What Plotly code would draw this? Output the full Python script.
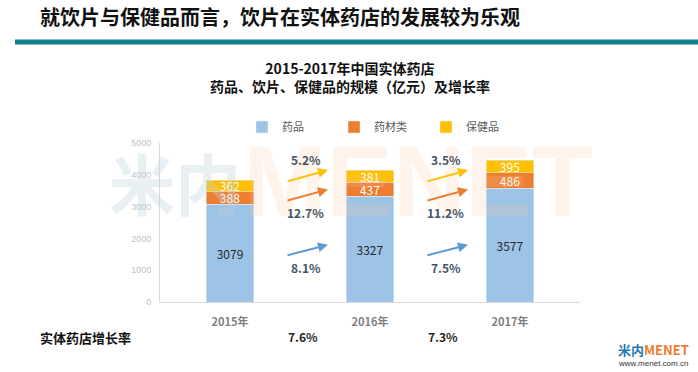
import plotly.graph_objects as go

# ---- data ----
years = ["2015年", "2016年", "2017年"]
drugs = [3079, 3327, 3577]          # 药品
herbs = [388, 437, 486]             # 药材类
health = [362, 381, 395]            # 保健品
growth_drugs = ["8.1%", "7.5%"]
growth_herbs = ["12.7%", "11.2%"]
growth_health = ["5.2%", "3.5%"]
store_growth = ["7.6%", "7.3%"]
y_ticks = [0, 1000, 2000, 3000, 4000, 5000]

# ---- styles ----
C_BLUE = "#9DC3E6"
C_ORANGE = "#ED7D31"
C_YELLOW = "#FFC000"
A_BLUE = "#5B9BD5"
CJK = "Noto Sans CJK SC"
LBL = "#44546A"

W, H = 698, 372
L, R, T, B = 160, 118, 143, 70
def px(xp): return (xp - L) / (W - L - R)
def py(yp): return (H - B - yp) / (H - T - B)

fig = go.Figure()
fig.add_bar(x=years, y=drugs, name="药品", marker_color=C_BLUE, width=0.34,
            text=drugs, textposition="inside", insidetextanchor="middle",
            textfont=dict(color="#262626", size=12, family=CJK))
fig.add_bar(x=years, y=herbs, name="药材类", marker_color=C_ORANGE, width=0.34,
            text=herbs, textposition="inside", insidetextanchor="middle",
            textfont=dict(color="white", size=12, family=CJK))
fig.add_bar(x=years, y=health, name="保健品", marker_color=C_YELLOW, width=0.34,
            text=health, textposition="inside", insidetextanchor="middle",
            textfont=dict(color="white", size=12, family=CJK))

ann = []
# watermark
ann.append(dict(x=-0.39, y=3800, xref="x", yref="y", text="<b>米内</b>", showarrow=False,
                font=dict(size=66, family=CJK, color="rgba(190,212,220,0.34)")))
ann.append(dict(x=1.34, y=3800, xref="x", yref="y", text="<b>MENET</b>", showarrow=False,
                font=dict(size=100, family="Liberation Sans", color="rgba(250,200,160,0.2)")))

# growth arrows between bars
arrow_levels = [  # (tail y, head y, label y, color, labels)
    (1460, 1800, 1100, A_BLUE, growth_drugs),
    (3180, 3540, 2830, C_ORANGE, growth_herbs),
    (3780, 4150, 4490, C_YELLOW, growth_health),
]
for i in range(len(years) - 1):
    for ty, hy, ly, col, labs in arrow_levels:
        ann.append(dict(x=i + 0.70, y=hy, ax=i + 0.40, ay=ty, xref="x", yref="y",
                        axref="x", ayref="y", text="", showarrow=True, arrowhead=2,
                        arrowsize=1, arrowwidth=2, arrowcolor=col))
        ann.append(dict(x=i + 0.54, y=ly, xref="x", yref="y", text="<b>%s</b>" % labs[i],
                        showarrow=False, font=dict(size=12, family=CJK, color=LBL)))
    ann.append(dict(x=i + 0.52, y=py(336), xref="x", yref="paper", yanchor="middle",
                    text="<b>%s</b>" % store_growth[i], showarrow=False,
                    font=dict(size=12, family=CJK, color="#262626")))

page = [
    dict(x=px(38), y=py(17), text="<b>就饮片与保健品而言，饮片在实体药店的发展较为乐观</b>",
         xanchor="left", font=dict(size=20, family=CJK, color="#111")),
    dict(x=px(350), y=py(77), text="<b>2015-2017年中国实体药店<br>药品、饮片、保健品的规模（亿元）及增长率</b>",
         xanchor="center", font=dict(size=14, family=CJK, color="#111")),
    dict(x=px(38), y=py(337), text="<b>实体药店增长率</b>",
         xanchor="left", font=dict(size=13, family=CJK, color="#111")),
    dict(x=px(653), y=py(349), text="<b><span style='color:#1F78B4'>米内</span><span style='color:#ED7D31'>MENET</span></b>",
         xanchor="center", font=dict(size=13, family=CJK)),
    dict(x=px(653), y=py(363), text="www.menet.com.cn",
         xanchor="center", font=dict(size=8, family="Liberation Sans", color="#333")),
]
for p in page:
    p.update(xref="paper", yref="paper", showarrow=False, yanchor="middle")

fig.update_layout(
    annotations=ann + page,
    width=W, height=H, barmode="stack",
    margin=dict(l=L, r=R, t=T, b=B),
    plot_bgcolor="white", paper_bgcolor="white",
    uniformtext=dict(minsize=12, mode="show"),
    font=dict(family=CJK),
    legend=dict(orientation="h", x=px(242), y=py(127), xanchor="left", yanchor="middle",
                font=dict(size=11, color="#595959", family=CJK),
                entrywidth=47, entrywidthmode="pixels", traceorder="normal",
                itemwidth=30),
    shapes=[dict(type="line", xref="paper", yref="paper", x0=px(15), x1=px(698),
                 y0=py(42), y1=py(42), line=dict(color="#137F8F", width=5))],
    xaxis=dict(showline=True, linecolor="#D9D9D9", linewidth=1, range=[-0.5, 2.5],
               tickfont=dict(size=11, color="#7F7F7F", family=CJK),
               ticklabelstandoff=10, tickprefix="<b>", ticksuffix="</b>"),
    yaxis=dict(range=[0, 5000], tickvals=y_ticks, showgrid=False, showline=True,
               linecolor="#D9D9D9", zeroline=False,
               tickfont=dict(size=9, color="#BFBFBF", family="Liberation Sans"),
               ticklabelstandoff=6),
)

fig.write_html("out.html", config={"displayModeBar": False},
               post_script="document.body.style.margin='0';")
